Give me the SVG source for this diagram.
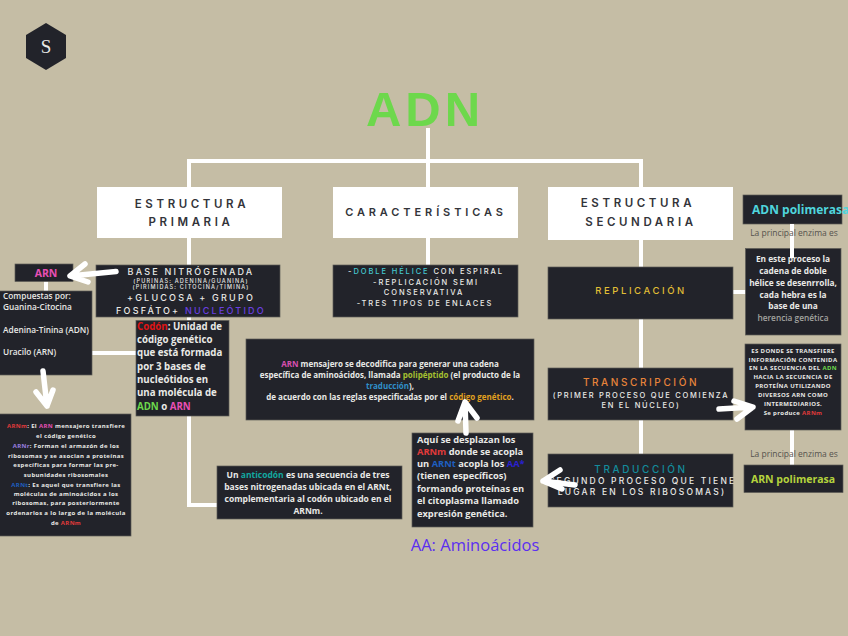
<svg xmlns="http://www.w3.org/2000/svg" width="848" height="636" viewBox="0 0 848 636">
<style>
.box{fill:#22232a;stroke:#5d5c58;stroke-width:.7}
.w{fill:#fff}
.ln{fill:none;stroke:#fff;stroke-width:4}
.ar{fill:none;stroke:#fff;stroke-width:5.5;stroke-linecap:round;stroke-linejoin:round}
text{font-family:"Open Sans","DejaVu Sans",sans-serif;text-anchor:middle;fill:#e9e9e6}
.l{text-anchor:start}
.h{font-family:Inter,"Open Sans",sans-serif;font-weight:600;font-size:11.5px;letter-spacing:3.6px;fill:#33343a}
.m{font-family:Inter,"Open Sans",sans-serif;font-weight:500;font-size:9px;letter-spacing:2.2px}
.n{font-family:Inter,"Open Sans",sans-serif;font-weight:500;font-size:7.500px;letter-spacing:1.9px}
.s{font-family:Inter,"Open Sans",sans-serif;font-weight:500;font-size:5.500px;letter-spacing:1.2px}
.b{font-weight:700;font-size:9.700px}
.c{font-weight:700;font-size:9.300px}
.a{font-weight:700;font-size:8.500px}
.t{font-weight:600;font-size:8.300px}
.g{font-weight:700;font-size:8px}
.x{font-weight:700;font-size:6px;letter-spacing:.35px}
.e{font-size:8.500px;fill:#55534e}
</style>
<rect width="848" height="636" fill="#c5bda5"/>
<g id="logo"><polygon points="46,23 66,35 66,58 46,70 26,58 26,35" fill="#22232a"/><text x="46" y="53" style="font-family:'Liberation Serif',serif;font-size:19px">S</text></g>
<g id="title"><text x="425" y="126" style="font-family:'Liberation Sans',sans-serif;font-weight:700;font-size:49px;letter-spacing:4px;fill:#6dd84c">ADN</text></g>
<g id="connectors">
<path class="ln" d="M428 128V265M189 187V161H641V187M189 238V265M189 317V321M189 416V505H217M641 238V454M92 353H136M46 281V291M733 292H746M792 430V465"/>
</g>
<g id="n-primaria"><rect class="w" x="97" y="187" width="185" height="51"/><text class="h" x="192" y="208">ESTRUCTURA</text><text class="h" x="191" y="226">PRIMARIA</text></g>
<g id="n-caracteristicas"><rect class="w" x="333" y="187" width="185" height="51"/><text class="h" x="426" y="216" style="font-size:11px;letter-spacing:3.900px">CARACTERÍSTICAS</text></g>
<g id="n-secundaria"><rect class="w" x="548" y="187" width="185" height="53"/><text class="h" x="638" y="207">ESTRUCTURA</text><text class="h" x="641" y="226">SECUNDARIA</text></g>
<g id="n-base"><rect class="box" x="96" y="265" width="184" height="52"/><text class="m" x="191" y="275">BASE NITRÓGENADA</text><text class="s" x="191" y="283">(PURINAS: ADENINA/GUANINA)</text><text class="s" x="191" y="289">(PIRIMIDAS: CITOCINA/TIMINA)</text><text class="m" x="191" y="301">+GLUCOSA + GRUPO</text><text class="m" x="191" y="314">FOSFÁTO+ <tspan fill="#6a3fe0">NUCLEÓTIDO</tspan></text></g>
<g id="n-arn"><rect class="box" x="15" y="264" width="58" height="17.500"/><text x="46" y="277" style="font-weight:700;font-size:10.500px;fill:#e84fb5">ARN</text></g>
<g id="n-compuestas"><rect class="box" x="-2" y="291" width="94" height="84"/><text class="t l" x="3" y="299">Compuestas por:</text><text class="t l" x="3" y="310">Guanina-Citocina</text><text class="t l" x="3" y="333">Adenina-Tinina (ADN)</text><text class="t l" x="3" y="355">Uracilo (ARN)</text></g>
<g id="n-codon"><rect class="box" x="136" y="320.500" width="93" height="95.500"/><text class="b l" x="137" y="330"><tspan fill="#e01515">Codón</tspan>: Unidad de</text><text class="b l" x="137" y="343">código genético</text><text class="b l" x="137" y="356">que está formada</text><text class="b l" x="137" y="370">por 3 bases de</text><text class="b l" x="137" y="383">nucleótidos en</text><text class="b l" x="137" y="396">una molécula de</text><text class="b l" x="137" y="410"><tspan fill="#6dd84c">ADN</tspan> o <tspan fill="#e84fb5">ARN</tspan></text></g>
<g id="n-tipos"><rect class="box" x="-2" y="414" width="133" height="122"/><text class="x" x="66" y="428"><tspan fill="#e03a3a">ARNm</tspan>: El <tspan fill="#e84fb5">ARN</tspan> mensajero transfiere</text><text class="x" x="66" y="438">el código genético</text><text class="x" x="66" y="448"><tspan fill="#9a7fe0">ARNr</tspan>: Forman el armazón de los</text><text class="x" x="66" y="458">ribosomas y se asocian a proteínas</text><text class="x" x="66" y="467">específicas para formar las pre-</text><text class="x" x="66" y="477">subunidades ribosomales</text><text class="x" x="66" y="487"><tspan fill="#1e5fc0">ARNt</tspan>: Es aquel que transfiere las</text><text class="x" x="66" y="496">moléculas de aminoácidos a los</text><text class="x" x="66" y="505">ribosomas, para posteriormente</text><text class="x" x="66" y="515">ordenarlos a lo largo de la molécula</text><text class="x" x="66" y="525">de  <tspan fill="#e03a3a">ARNm</tspan></text></g>
<g id="n-caract"><rect class="box" x="333" y="265" width="185" height="52"/><text class="n" x="426" y="274">-<tspan fill="#45c8d0">DOBLE HÉLICE</tspan> CON ESPIRAL</text><text class="n" x="426" y="285">-REPLICACIÓN SEMI</text><text class="n" x="424" y="295">CONSERVATIVA</text><text class="n" x="425" y="306">-TRES TIPOS DE ENLACES</text></g>
<g id="n-replicacion"><rect class="box" x="548" y="267" width="185" height="52"/><text class="m" x="641" y="294" style="font-size:9.500px;letter-spacing:2.600px;fill:#e0bd35">REPLICACIÓN</text></g>
<g id="n-transcripcion"><rect class="box" x="548" y="368" width="185" height="52"/><text class="m" x="641" y="386" style="font-size:10px;letter-spacing:2.600px;fill:#e8843a">TRANSCRIPCIÓN</text><text class="n" x="641" y="398" style="letter-spacing:1.700px">(PRIMER PROCESO QUE COMIENZA</text><text class="n" x="641" y="408" style="letter-spacing:1.700px">EN EL NÚCLEO)</text></g>
<g id="n-traduccion"><rect class="box" x="548" y="454" width="185" height="53"/><text class="m" x="641" y="473" style="font-size:10px;letter-spacing:2.600px;fill:#138c9c">TRADUCCIÓN</text><text class="m" x="640" y="484" style="font-size:8.500px">(SEGUNDO PROCESO QUE TIENE</text><text class="m" x="642" y="495" style="font-size:8.500px">LUGAR EN LOS RIBOSOMAS)</text></g>
<g id="n-adnpol"><rect class="box" x="743" y="195" width="99" height="29"/><text x="752" y="214" class="l" style="font-weight:700;font-size:12px;fill:#4fd5dd">ADN polimerasa</text></g>
<g id="n-eneste"><rect class="box" x="745.500" y="248.500" width="95.500" height="86.500"/><text class="t" x="793" y="262" style="font-weight:700">En este proceso la</text><text class="t" x="793" y="274" style="font-weight:700">cadena de doble</text><text class="t" x="793" y="286" style="font-weight:700">hélice se desenrrolla,</text><text class="t" x="793" y="298" style="font-weight:700">cada hebra es la</text><text class="t" x="793" y="309" style="font-weight:700">base de una</text><text class="t" x="793" y="321" style="fill:#a3a3a0">herencia genética</text></g>
<g id="n-esdonde"><rect class="box" x="745" y="344" width="96" height="86"/><text class="x" x="793" y="353">ES DONDE SE TRANSFIERE</text><text class="x" x="793" y="362">INFORMACIÓN CONTENIDA</text><text class="x" x="793" y="370">EN LA SECUENCIA DEL <tspan fill="#6dd84c">ADN</tspan></text><text class="x" x="793" y="379">HACIA LA SECUENCIA DE</text><text class="x" x="793" y="388">PROTEÍNA UTILIZANDO</text><text class="x" x="793" y="397">DIVERSOS ARN COMO</text><text class="x" x="793" y="406">INTERMEDIARIOS.</text><text class="x" x="793" y="415">Se produce <tspan fill="#e03a3a">ARNm</tspan></text></g>
<g id="n-arnpol"><rect class="box" x="744" y="465" width="99" height="27.500"/><text x="793" y="483" style="font-weight:700;font-size:10.500px;fill:#b5d33d">ARN polimerasa</text></g>
<g id="n-mensajero"><rect class="box" x="246" y="339" width="288" height="81"/><text class="g" x="390" y="367"><tspan fill="#d84fb0">ARN</tspan> mensajero se decodifica para generar una cadena</text><text class="g" x="390" y="378">específica de aminoácidos, llamada <tspan fill="#a5c030">polipéptido</tspan> (el producto de la</text><text class="g" x="390" y="389"><tspan fill="#2f8fc8">traducción</tspan>),</text><text class="g" x="390" y="400">de acuerdo con las reglas especificadas por el <tspan fill="#e0a020">código genético</tspan>.</text></g>
<g id="n-aqui"><rect class="box" x="412" y="433" width="121" height="94"/><text class="c l" x="417" y="443">Aquí se desplazan los</text><text class="c l" x="417" y="455"><tspan fill="#e03a3a">ARNm</tspan> donde se acopla</text><text class="c l" x="417" y="467">un <tspan fill="#1e5fc0">ARNt</tspan> acopla los <tspan fill="#2a20d0">AA*</tspan></text><text class="c l" x="417" y="479">(tienen específicos)</text><text class="c l" x="417" y="492">formando proteínas en</text><text class="c l" x="417" y="504">el citoplasma llamado</text><text class="c l" x="417" y="517">expresión genética.</text></g>
<g id="n-anticodon"><rect class="box" x="217" y="466" width="185" height="53"/><text class="a" x="308" y="478">Un <tspan fill="#12a8a0">anticodón</tspan> es una secuencia de tres</text><text class="a" x="308" y="490">bases nitrogenadas ubicada en el ARNt,</text><text class="a" x="308" y="502">complementaria al codón ubicado en el</text><text class="a" x="308" y="514">ARNm.</text></g>
<g id="arrows">
<path class="ln" d="M792 224V258"/>
<path class="ar" d="M116 271.500L70 276M85 264L70 276L88 282"/>
<path class="ar" d="M43 371L47 406M36 392L47 406L53 390"/>
<path class="ar" d="M719 409L753 407M734 401L753 407L737 419"/>
<path class="ar" d="M575 485L543 481M560 470L543 481L562 489"/>
<path class="ar" d="M466 433L465 402M458 421L465 402L477 418"/>
</g>
<g id="labels"><text class="e" x="794" y="236">La principal enzima es</text><text class="e" x="794" y="457">La principal enzima es</text><text x="475" y="551" style="font-size:16.500px;fill:#5b2ff0">AA: Aminoácidos</text></g>
</svg>
